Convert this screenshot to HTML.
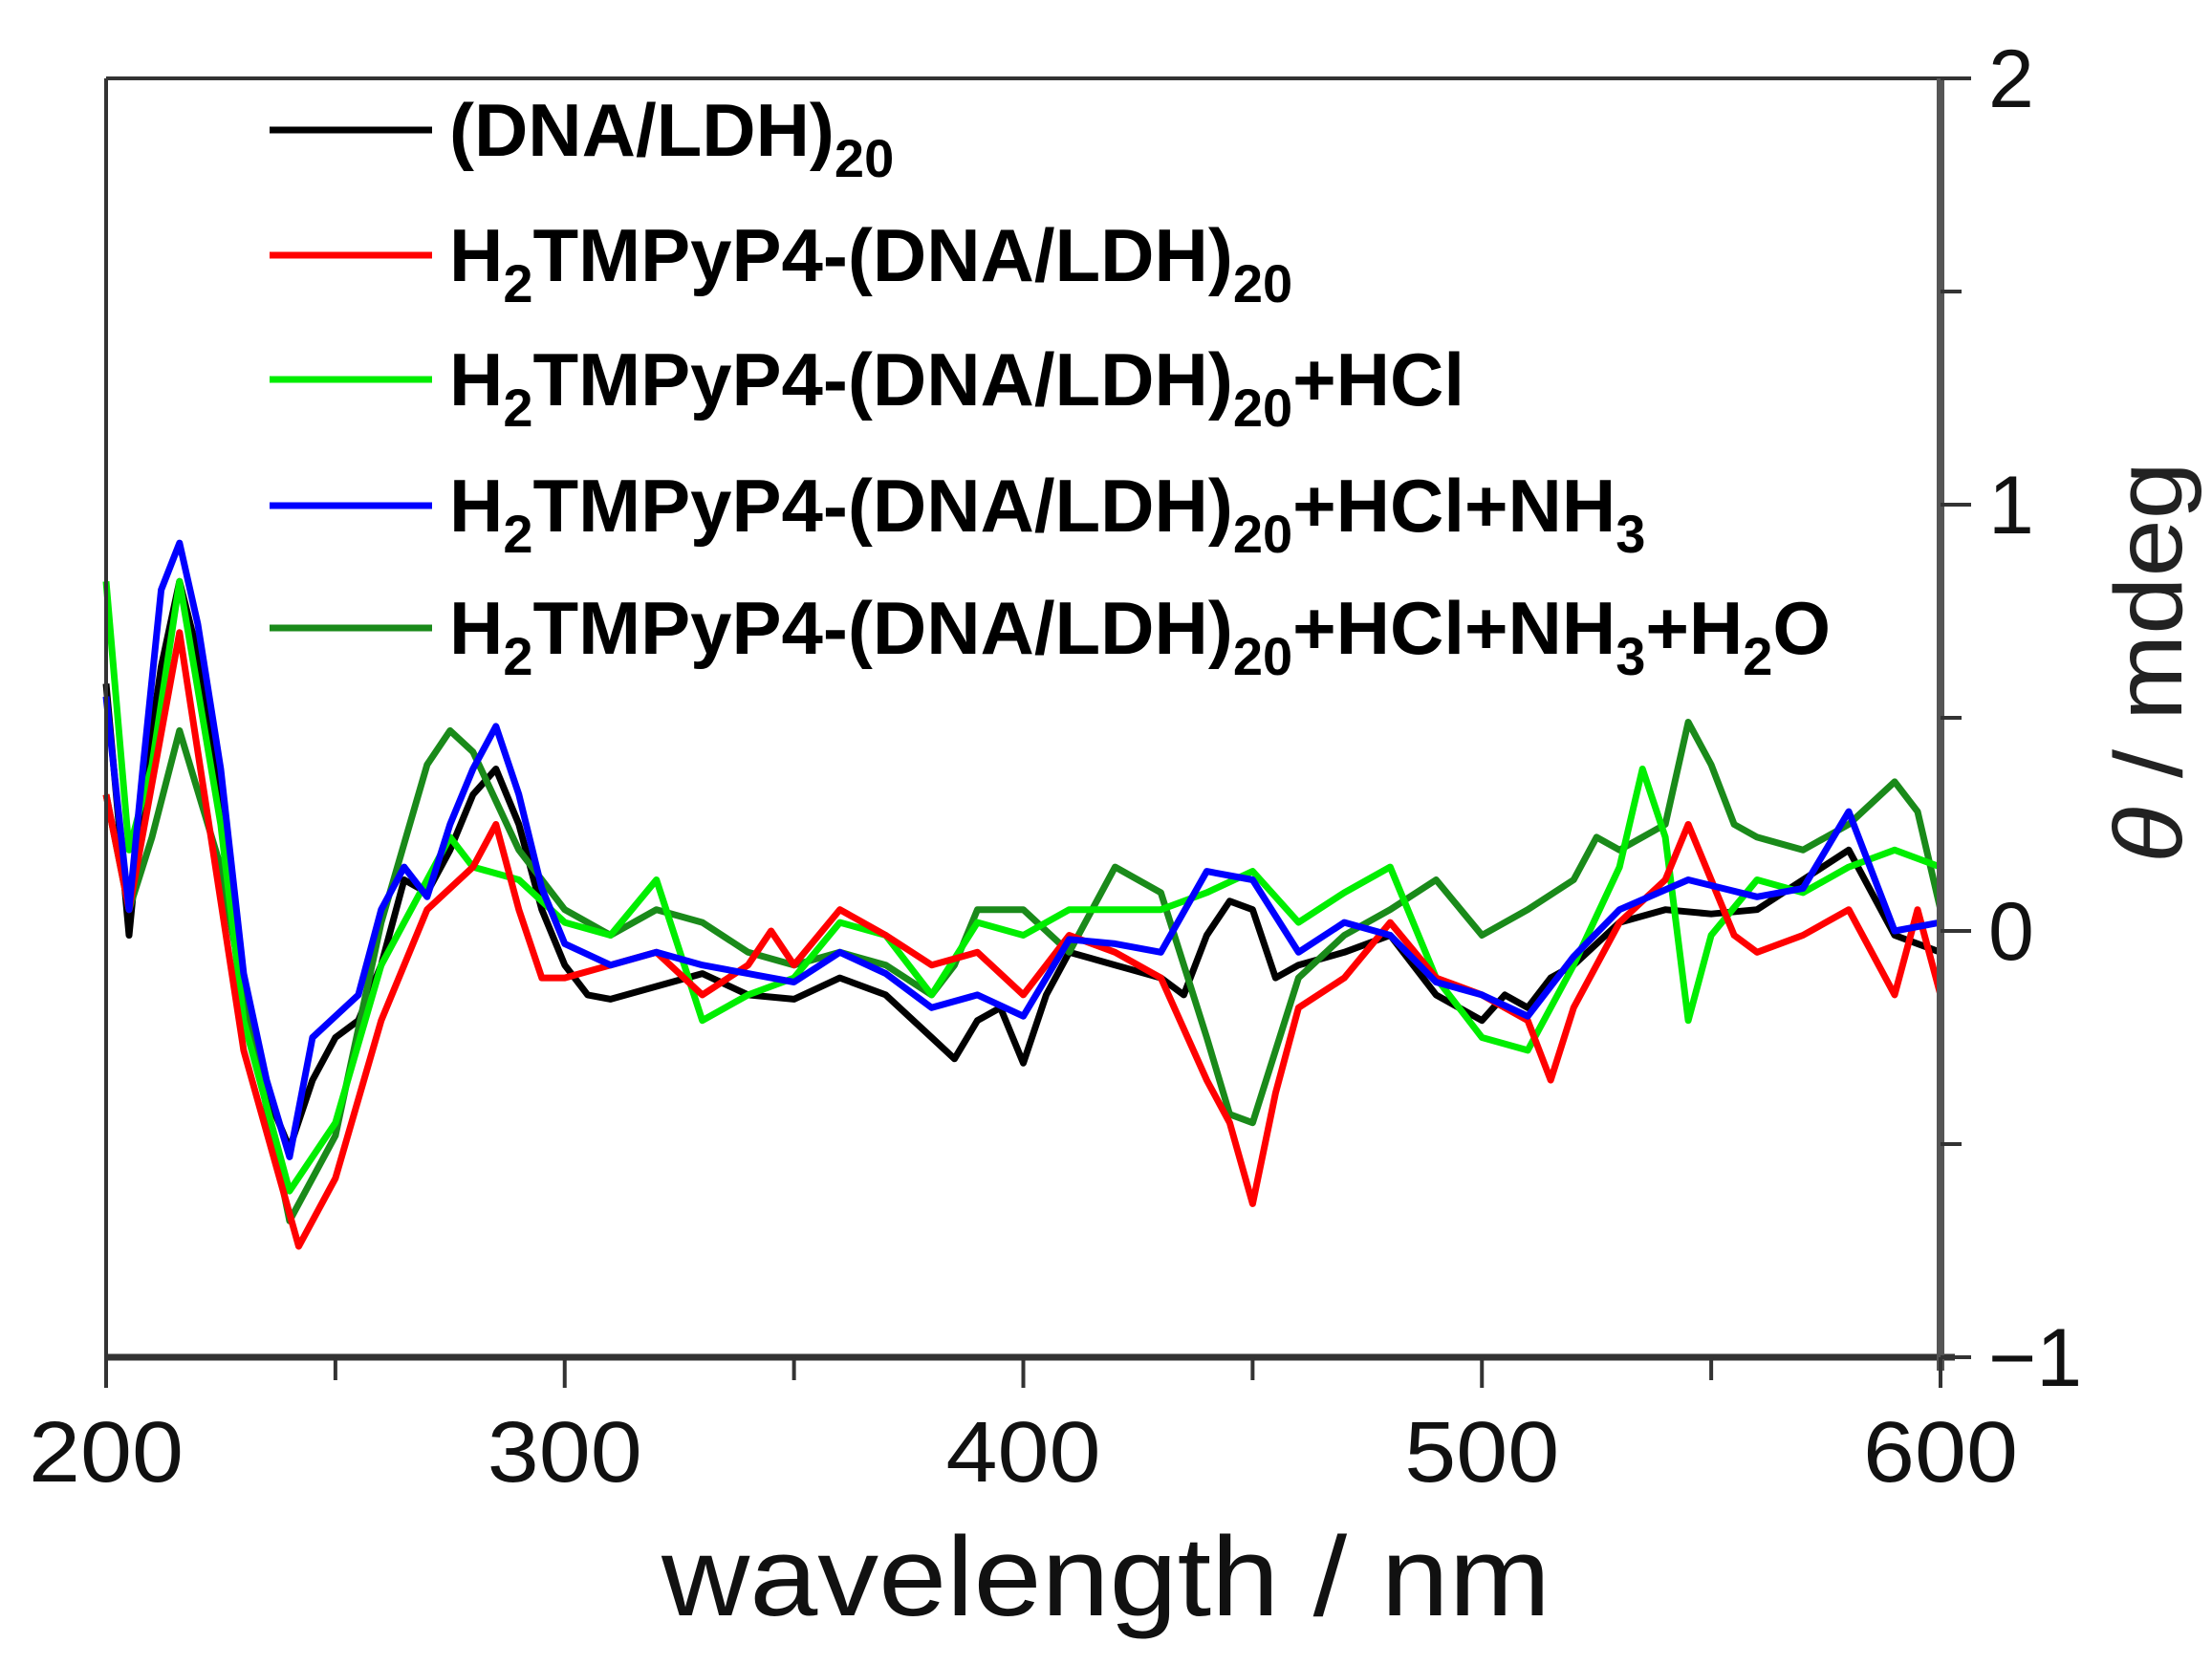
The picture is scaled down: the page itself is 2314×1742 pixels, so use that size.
<!DOCTYPE html>
<html><head><meta charset="utf-8"><style>
html,body{margin:0;padding:0;background:#fff}
svg{display:block}
text{font-family:"Liberation Sans",Arial,sans-serif}
</style></head><body>
<svg id="chart" width="2314" height="1742" viewBox="0 0 2314 1742" xmlns="http://www.w3.org/2000/svg">
<g id="series"></g>
<g id="axes"></g>
<g id="legend"></g>
</svg>
<script>
const xTicks = [200, 300, 400, 500, 600];
const xMinor = [250, 350, 450, 550];
const yTicks = [2, 1, 0, -1];
const yTickLabels = ["2", "1", "0", "\u22121"];
const yMinor = [1.5, 0.5, -0.5];

const blackX = [200,205,208,212,216,220,225,230,235,240,245,250,255,260,265,270,275,280,285,290,295,300,305,310,320,330,340,350,360,370,380,385,390,395,400,405,410,420,430,435,440,445,450,455,460,470,480,490,500,505,510,515,520,530,540,550,560,570,580,590,600];
const blackY = [0.58,-0.01,0.32,0.62,0.82,0.65,0.32,-0.15,-0.38,-0.51,-0.35,-0.25,-0.21,-0.08,0.12,0.09,0.19,0.32,0.38,0.25,0.05,-0.08,-0.15,-0.16,-0.13,-0.10,-0.15,-0.16,-0.11,-0.15,-0.25,-0.30,-0.21,-0.18,-0.31,-0.15,-0.05,-0.08,-0.11,-0.15,-0.01,0.07,0.05,-0.11,-0.08,-0.05,-0.01,-0.15,-0.21,-0.15,-0.18,-0.11,-0.08,0.02,0.05,0.04,0.05,0.12,0.19,-0.01,-0.05];

const redX = [200,205,216,230,242,250,260,270,280,285,290,295,300,310,320,330,340,345,350,360,370,380,390,400,410,420,430,440,445,450,455,460,470,480,490,500,510,515,520,530,540,545,550,555,560,570,580,590,595,600];
const redY = [0.32,0.05,0.70,-0.28,-0.74,-0.58,-0.21,0.05,0.15,0.25,0.05,-0.11,-0.11,-0.08,-0.05,-0.15,-0.08,0.00,-0.08,0.05,-0.01,-0.08,-0.05,-0.15,-0.01,-0.05,-0.11,-0.35,-0.45,-0.64,-0.38,-0.18,-0.11,0.02,-0.11,-0.15,-0.21,-0.35,-0.18,0.02,0.12,0.25,0.12,-0.01,-0.05,-0.01,0.05,-0.15,0.05,-0.15];

const lgreenX = [200,205,210,216,225,230,240,250,260,270,275,280,290,300,310,320,330,340,350,360,370,380,390,400,410,420,430,440,450,460,470,480,490,500,510,520,530,535,540,545,550,560,570,580,590,600];
const lgreenY = [0.82,0.19,0.39,0.82,0.25,-0.21,-0.61,-0.45,-0.08,0.12,0.22,0.15,0.12,0.02,-0.01,0.12,-0.21,-0.15,-0.11,0.02,-0.01,-0.15,0.02,-0.01,0.05,0.05,0.05,0.09,0.14,0.02,0.09,0.15,-0.11,-0.25,-0.28,-0.08,0.15,0.38,0.22,-0.21,-0.01,0.12,0.09,0.15,0.19,0.15];

const blueX = [200,205,208,212,216,220,225,230,235,240,245,250,255,260,265,270,275,280,285,290,295,300,310,320,330,340,350,360,370,380,390,400,410,420,430,440,450,460,470,480,490,500,510,520,530,545,560,570,580,590,600];
const blueY = [0.55,0.05,0.38,0.80,0.91,0.72,0.38,-0.10,-0.35,-0.53,-0.25,-0.20,-0.15,0.05,0.15,0.08,0.25,0.38,0.48,0.32,0.10,-0.03,-0.08,-0.05,-0.08,-0.10,-0.12,-0.05,-0.10,-0.18,-0.15,-0.20,-0.02,-0.03,-0.05,0.14,0.12,-0.05,0.02,-0.01,-0.12,-0.15,-0.20,-0.06,0.05,0.12,0.08,0.10,0.28,0.00,0.02];

const dgreenX = [200,205,210,216,225,230,240,250,260,270,275,280,290,300,310,320,330,340,350,360,370,380,385,390,400,410,420,430,440,445,450,455,460,470,480,490,500,510,520,525,530,540,545,550,555,560,570,580,590,595,600];
const dgreenY = [0.32,0.05,0.22,0.47,0.15,-0.15,-0.68,-0.48,0.02,0.39,0.47,0.42,0.19,0.05,-0.01,0.05,0.02,-0.05,-0.08,-0.05,-0.08,-0.15,-0.08,0.05,0.05,-0.05,0.15,0.09,-0.25,-0.43,-0.45,-0.28,-0.11,-0.01,0.05,0.12,-0.01,0.05,0.12,0.22,0.19,0.25,0.49,0.39,0.25,0.22,0.19,0.25,0.35,0.28,0.05];

const seriesColors = ["#000000", "#ff0000", "#00ee00", "#0000ff", "#1a8a1a"];
const seriesNames = ["dna-ldh", "h2tmpyp4-dna-ldh", "plus-hcl", "plus-hcl-nh3", "plus-hcl-nh3-h2o"];

const L = 111, R = 2030, T = 82, B = 1420;
const xS = v => L + (v - 200) / 400 * (R - L);
const yS = v => B - (v + 1) / 3 * (B - T);
const NS = "http://www.w3.org/2000/svg";
function mk(tag, attrs, parent) {
  const e = document.createElementNS(NS, tag);
  for (const k in attrs) e.setAttribute(k, attrs[k]);
  parent.appendChild(e);
  return e;
}
const gS = document.getElementById('series');
const gA = document.getElementById('axes');
const gL = document.getElementById('legend');

const allSeries = [[blackX, blackY], [redX, redY], [lgreenX, lgreenY], [blueX, blueY], [dgreenX, dgreenY]];
const drawOrder = [0, 4, 2, 1, 3];
drawOrder.forEach(i => {
  const [xs, ys] = allSeries[i];
  const d = xs.map((x, j) => (j ? 'L' : 'M') + xS(x).toFixed(1) + ' ' + yS(ys[j]).toFixed(1)).join(' ');
  const p = mk('path', {d: d, fill: 'none', stroke: seriesColors[i], 'stroke-width': 7, 'stroke-linejoin': 'round'}, gS);
  
  
});

const frame = mk('path', {d: `M${L} ${T} H2060 M${L} ${T} V${B} M${R} ${T} V${B+8}`, stroke: '#333', 'stroke-width': 4, fill: 'none'}, gA);


const xAxis = mk('line', {x1: L, y1: B, x2: R + 15, y2: B, stroke: '#333', 'stroke-width': 7}, gA);


const yAxis = mk('line', {x1: R, y1: T, x2: R, y2: B + 14, stroke: '#555', 'stroke-width': 8}, gA);



xTicks.forEach(v => {
  const t = mk('line', {x1: xS(v), y1: B, x2: xS(v), y2: B + 32, stroke: '#333', 'stroke-width': 4}, gA);
  
  
  const lb = mk('text', {x: xS(v), y: 1550, 'font-size': 90, 'text-anchor': 'middle', fill: '#111', textLength: 162, lengthAdjust: 'spacingAndGlyphs'}, gA);
  lb.textContent = v;
  
  
});
xMinor.forEach(v => {
  const t = mk('line', {x1: xS(v), y1: B, x2: xS(v), y2: B + 24, stroke: '#333', 'stroke-width': 4}, gA);
  
  
});
yTicks.forEach((v, i) => {
  const t = mk('line', {x1: R, y1: yS(v), x2: R + 32, y2: yS(v), stroke: '#333', 'stroke-width': 4}, gA);
  
  
  const lb = mk('text', {x: 2080, y: yS(v) + 30, 'font-size': 86, fill: '#111'}, gA);
  lb.textContent = yTickLabels[i];
  
  
});
yMinor.forEach(v => {
  const t = mk('line', {x1: R, y1: yS(v), x2: R + 22, y2: yS(v), stroke: '#333', 'stroke-width': 4}, gA);
  
  
});
const xt = mk('text', {x: 1157, y: 1690, 'font-size': 118, 'text-anchor': 'middle', fill: '#111', textLength: 930, lengthAdjust: 'spacingAndGlyphs'}, gA);
xt.textContent = 'wavelength / nm';


const yt = mk('text', {x: 0, y: 0, 'font-size': 100, 'text-anchor': 'middle', fill: '#222', transform: 'translate(2282 693) rotate(-90)', textLength: 420, lengthAdjust: 'spacingAndGlyphs'}, gA);
yt.innerHTML = '<tspan font-style="italic">θ</tspan> / mdeg';



const legendHTML = [
  '(DNA/LDH)<tspan font-size="56" dy="22">20</tspan>',
  'H<tspan font-size="56" dy="22">2</tspan><tspan dy="-22">TMPyP4-(DNA/LDH)</tspan><tspan font-size="56" dy="22">20</tspan>',
  'H<tspan font-size="56" dy="22">2</tspan><tspan dy="-22">TMPyP4-(DNA/LDH)</tspan><tspan font-size="56" dy="22">20</tspan><tspan dy="-22">+HCl</tspan>',
  'H<tspan font-size="56" dy="22">2</tspan><tspan dy="-22">TMPyP4-(DNA/LDH)</tspan><tspan font-size="56" dy="22">20</tspan><tspan dy="-22">+HCl+NH</tspan><tspan font-size="56" dy="22">3</tspan>',
  'H<tspan font-size="56" dy="22">2</tspan><tspan dy="-22">TMPyP4-(DNA/LDH)</tspan><tspan font-size="56" dy="22">20</tspan><tspan dy="-22">+HCl+NH</tspan><tspan font-size="56" dy="22">3</tspan><tspan dy="-22">+H</tspan><tspan font-size="56" dy="22">2</tspan><tspan dy="-22">O</tspan>'
];
const lbg = mk('rect', {x: 260, y: 90, width: 1690, height: 640, fill: '#fff'}, gL);


const rowY = [136, 267, 397, 529, 657];
legendHTML.forEach((h, i) => {
  const g = mk('g', {}, gL);
  
  
  mk('line', {x1: 282, y1: rowY[i], x2: 452, y2: rowY[i], stroke: seriesColors[i], 'stroke-width': 7}, g);
  const t = mk('text', {x: 470, y: rowY[i] + 27, 'font-size': 78, 'font-weight': 'bold', fill: '#000'}, g);
  t.innerHTML = h;
});
</script>
</body></html>
